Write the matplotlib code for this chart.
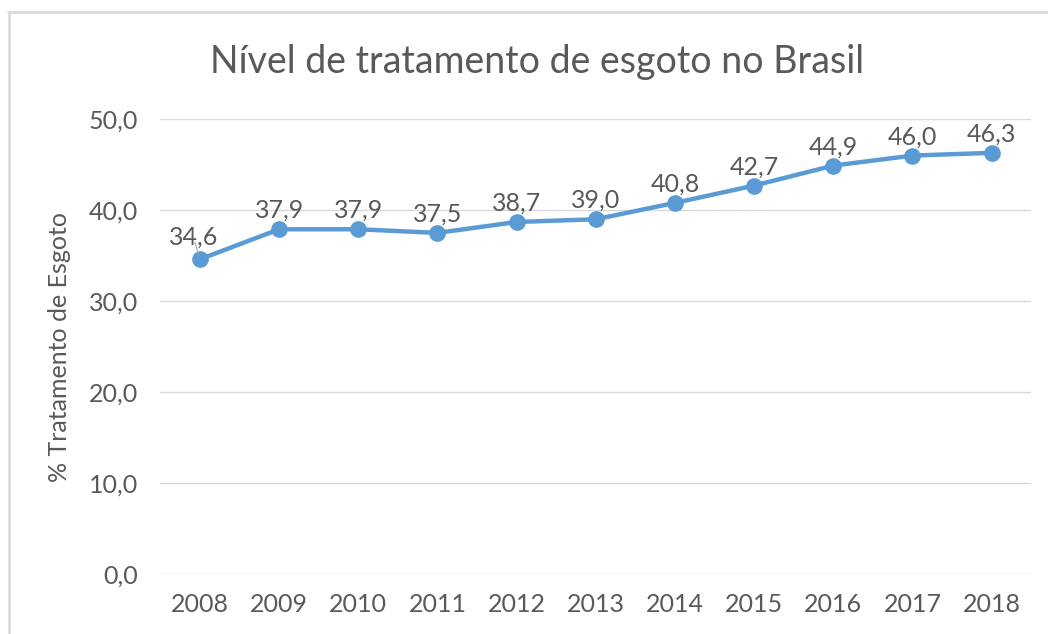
import matplotlib
matplotlib.use("Agg")
import matplotlib.pyplot as plt
import matplotlib.ticker as ticker
from matplotlib.lines import Line2D

years = ["2008", "2009", "2010", "2011", "2012", "2013", "2014", "2015", "2016", "2017", "2018"]
tratamento = [34.6, 37.9, 37.9, 37.5, 38.7, 39.0, 40.8, 42.7, 44.9, 46.0, 46.3]
y_ticks = [0, 10, 20, 30, 40, 50]

grey_text = "#595959"
line_blue = "#5B9BD5"
grid_grey = "#D9D9D9"

plt.rcParams["font.family"] = ["Lato", "DejaVu Sans"]

fig = plt.figure(figsize=(10.48, 6.34), dpi=100)
ax = fig.add_axes([0.153, 0.0946, 0.831, 0.7174])

x = range(len(years))
ax.plot(x, tratamento, color=line_blue, linewidth=3.2, marker="o",
        markersize=11, zorder=3)

for i, v in enumerate(tratamento):
    label = f"{v:.1f}".replace(".", ",")
    if i == 0:
        ax.annotate(label, (i, v), xytext=(-6, 22), textcoords="offset pixels",
                    ha="center", va="center", fontsize=18, color=grey_text)
        ax.annotate("", (i, v), xytext=(-5, 17), textcoords="offset pixels",
                    arrowprops=dict(arrowstyle="-", color="#A6A6A6", lw=0.8,
                                    shrinkA=0, shrinkB=3))
    else:
        ax.annotate(label, (i, v), xytext=(0, 19), textcoords="offset pixels",
                    ha="center", va="center", fontsize=18, color=grey_text)

ax.set_xlim(-0.5, len(years) - 0.5)
ax.set_ylim(0, 50)
ax.set_xticks(list(x))
ax.set_xticklabels(years)
ax.set_yticks(y_ticks)
ax.yaxis.set_major_formatter(ticker.FuncFormatter(lambda v, p: f"{v:.1f}".replace(".", ",")))
ax.tick_params(axis="both", length=0, labelsize=18, colors=grey_text)
ax.tick_params(axis="x", pad=14)
ax.tick_params(axis="y", pad=16)
ax.grid(axis="y", color=grid_grey, linewidth=1)
ax.set_axisbelow(True)
for s in ax.spines.values():
    s.set_visible(False)

ax.set_ylabel("% Tratamento de Esgoto", fontsize=18, color=grey_text, labelpad=13)
fig.text(0.512, 0.902, "Nível de tratamento de esgoto no Brasil", ha="center",
         va="center", fontsize=27, color=grey_text)

# chart border (top and left visible)
fig.add_artist(Line2D([8 / 1048, 1], [1 - 11.5 / 634, 1 - 11.5 / 634],
                      transform=fig.transFigure, color=grid_grey, linewidth=1.8))
fig.add_artist(Line2D([8.5 / 1048, 8.5 / 1048], [0, 1 - 11.5 / 634],
                      transform=fig.transFigure, color=grid_grey, linewidth=1.8))

fig.savefig("out.png", dpi=100, facecolor="white")
